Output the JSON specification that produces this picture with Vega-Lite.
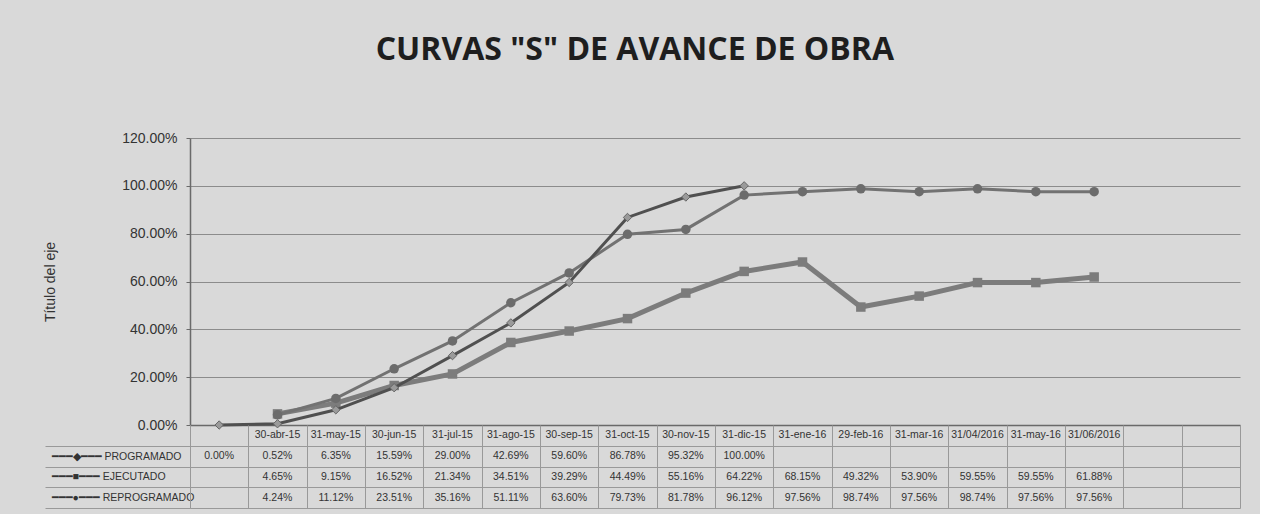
{
  "$schema": "https://vega.github.io/schema/vega-lite/v6.json",
  "background": "#d9d9d9",
  "padding": {"left": 43, "top": 34, "right": 20, "bottom": 5},
  "title": {
    "text": "CURVAS \"S\" DE AVANCE DE OBRA",
    "font": "Open Sans",
    "fontSize": 32,
    "fontWeight": "bold",
    "color": "#1e1e1e",
    "anchor": "middle",
    "dx": -7,
    "offset": 64
  },
  "datasets": {
    "pts": [
      {"serie": "PROGRAMADO", "fecha": " ", "v": 0},
      {"serie": "PROGRAMADO", "fecha": "30-abr-15", "v": 0.0052},
      {"serie": "PROGRAMADO", "fecha": "31-may-15", "v": 0.0635},
      {"serie": "PROGRAMADO", "fecha": "30-jun-15", "v": 0.1559},
      {"serie": "PROGRAMADO", "fecha": "31-jul-15", "v": 0.29},
      {"serie": "PROGRAMADO", "fecha": "31-ago-15", "v": 0.4269},
      {"serie": "PROGRAMADO", "fecha": "30-sep-15", "v": 0.596},
      {"serie": "PROGRAMADO", "fecha": "31-oct-15", "v": 0.8678},
      {"serie": "PROGRAMADO", "fecha": "30-nov-15", "v": 0.9532},
      {"serie": "PROGRAMADO", "fecha": "31-dic-15", "v": 1.0},
      {"serie": "EJECUTADO", "fecha": "30-abr-15", "v": 0.0465},
      {"serie": "EJECUTADO", "fecha": "31-may-15", "v": 0.0915},
      {"serie": "EJECUTADO", "fecha": "30-jun-15", "v": 0.1652},
      {"serie": "EJECUTADO", "fecha": "31-jul-15", "v": 0.2134},
      {"serie": "EJECUTADO", "fecha": "31-ago-15", "v": 0.3451},
      {"serie": "EJECUTADO", "fecha": "30-sep-15", "v": 0.3929},
      {"serie": "EJECUTADO", "fecha": "31-oct-15", "v": 0.4449},
      {"serie": "EJECUTADO", "fecha": "30-nov-15", "v": 0.5516},
      {"serie": "EJECUTADO", "fecha": "31-dic-15", "v": 0.6422},
      {"serie": "EJECUTADO", "fecha": "31-ene-16", "v": 0.6815},
      {"serie": "EJECUTADO", "fecha": "29-feb-16", "v": 0.4932},
      {"serie": "EJECUTADO", "fecha": "31-mar-16", "v": 0.539},
      {"serie": "EJECUTADO", "fecha": "31/04/2016", "v": 0.5955},
      {"serie": "EJECUTADO", "fecha": "31-may-16", "v": 0.5955},
      {"serie": "EJECUTADO", "fecha": "31/06/2016", "v": 0.6188},
      {"serie": "REPROGRAMADO", "fecha": "30-abr-15", "v": 0.0424},
      {"serie": "REPROGRAMADO", "fecha": "31-may-15", "v": 0.1112},
      {"serie": "REPROGRAMADO", "fecha": "30-jun-15", "v": 0.2351},
      {"serie": "REPROGRAMADO", "fecha": "31-jul-15", "v": 0.3516},
      {"serie": "REPROGRAMADO", "fecha": "31-ago-15", "v": 0.5111},
      {"serie": "REPROGRAMADO", "fecha": "30-sep-15", "v": 0.636},
      {"serie": "REPROGRAMADO", "fecha": "31-oct-15", "v": 0.7973},
      {"serie": "REPROGRAMADO", "fecha": "30-nov-15", "v": 0.8178},
      {"serie": "REPROGRAMADO", "fecha": "31-dic-15", "v": 0.9612},
      {"serie": "REPROGRAMADO", "fecha": "31-ene-16", "v": 0.9756},
      {"serie": "REPROGRAMADO", "fecha": "29-feb-16", "v": 0.9874},
      {"serie": "REPROGRAMADO", "fecha": "31-mar-16", "v": 0.9756},
      {"serie": "REPROGRAMADO", "fecha": "31/04/2016", "v": 0.9874},
      {"serie": "REPROGRAMADO", "fecha": "31-may-16", "v": 0.9756},
      {"serie": "REPROGRAMADO", "fecha": "31/06/2016", "v": 0.9756}
    ],
    "cats": [
      {"fecha": " "}, {"fecha": "30-abr-15"}, {"fecha": "31-may-15"}, {"fecha": "30-jun-15"},
      {"fecha": "31-jul-15"}, {"fecha": "31-ago-15"}, {"fecha": "30-sep-15"}, {"fecha": "31-oct-15"},
      {"fecha": "30-nov-15"}, {"fecha": "31-dic-15"}, {"fecha": "31-ene-16"}, {"fecha": "29-feb-16"},
      {"fecha": "31-mar-16"}, {"fecha": "31/04/2016"}, {"fecha": "31-may-16"}, {"fecha": "31/06/2016"},
      {"fecha": "  "}, {"fecha": "   "}
    ]
  },
  "spacing": 0,
  "bounds": "flush",
  "resolve": {"scale": {"x": "independent", "y": "independent"}},
  "vconcat": [
    {
      "width": 1050,
      "height": 287,
      "data": {"name": "pts"},
      "encoding": {
        "x": {
          "field": "fecha",
          "type": "ordinal",
          "scale": {"type": "point", "padding": 0.5, "domain": [" ", "30-abr-15", "31-may-15", "30-jun-15", "31-jul-15", "31-ago-15", "30-sep-15", "31-oct-15", "30-nov-15", "31-dic-15", "31-ene-16", "29-feb-16", "31-mar-16", "31/04/2016", "31-may-16", "31/06/2016", "  ", "   "]},
          "axis": {"labels": false, "ticks": false, "title": null, "grid": false, "domainColor": "#6a6a6a", "domainWidth": 1.5}
        },
        "y": {
          "field": "v",
          "type": "quantitative",
          "scale": {"domain": [0, 1.2], "nice": false},
          "axis": {
            "values": [0, 0.2, 0.4, 0.6, 0.8, 1.0, 1.2],
            "format": ".2%",
            "title": "Título del eje",
            "titleFont": "Liberation Sans",
            "titleFontSize": 14,
            "titleFontWeight": "normal",
            "titleColor": "#333",
            "titlePadding": 64,
            "labelFont": "Liberation Sans",
            "labelFontSize": 14,
            "labelColor": "#333",
            "labelPadding": 9,
            "tickSize": 4,
            "tickColor": "#6a6a6a",
            "domainColor": "#6a6a6a",
            "domainWidth": 1.5,
            "grid": true,
            "gridColor": "#8c8c8c",
            "gridWidth": 1.2
          }
        }
      },
      "layer": [
        {
          "transform": [{"filter": "datum.serie == 'EJECUTADO'"}],
          "mark": {"type": "line", "color": "#7c7c7c", "strokeWidth": 5,
                   "point": {"shape": "square", "size": 90, "filled": true, "fill": "#7c7c7c"}}
        },
        {
          "transform": [{"filter": "datum.serie == 'REPROGRAMADO'"}],
          "mark": {"type": "line", "color": "#727272", "strokeWidth": 3,
                   "point": {"shape": "circle", "size": 90, "filled": true, "fill": "#6c6c6c"}}
        },
        {
          "transform": [{"filter": "datum.serie == 'PROGRAMADO'"}],
          "mark": {"type": "line", "color": "#505050", "strokeWidth": 3,
                   "point": {"shape": "diamond", "size": 70, "filled": true, "fill": "#9a9a9a", "stroke": "#666", "strokeWidth": 1}}
        }
      ]
    },
    {
      "width": 1050,
      "height": 83,
      "encoding": {
        "x": {
          "field": "fecha",
          "type": "ordinal",
          "scale": {"type": "band", "paddingInner": 0, "paddingOuter": 0, "domain": [" ", "30-abr-15", "31-may-15", "30-jun-15", "31-jul-15", "31-ago-15", "30-sep-15", "31-oct-15", "30-nov-15", "31-dic-15", "31-ene-16", "29-feb-16", "31-mar-16", "31/04/2016", "31-may-16", "31/06/2016", "  ", "   "]},
          "axis": {"labels": false, "ticks": false, "domain": false, "title": null, "grid": true, "tickBand": "extent", "gridColor": "#999", "gridWidth": 1}
        },
        "y": {
          "field": "serie",
          "type": "nominal",
          "scale": {"domain": ["H", "PROGRAMADO", "EJECUTADO", "REPROGRAMADO"], "paddingInner": 0, "paddingOuter": 0},
          "axis": {
            "title": null,
            "values": ["PROGRAMADO", "EJECUTADO", "REPROGRAMADO"],
            "tickBand": "extent",
            "tickSize": 145,
            "tickColor": "#999",
            "grid": true,
            "gridColor": "#999",
            "domain": true,
            "domainColor": "#999",
            "labelAlign": "left",
            "labelPadding": -6,
            "labelFont": "Liberation Sans",
            "labelFontSize": 10.5,
            "labelColor": "#333",
            "labelExpr": "datum.extra ? '' : datum.label == 'PROGRAMADO' ? '━━━◆━━━ PROGRAMADO' : datum.label == 'EJECUTADO' ? '━━━■━━━ EJECUTADO' : '━━━●━━━ REPROGRAMADO'"
          }
        }
      },
      "layer": [
        {
          "data": {"name": "pts"},
          "mark": {"type": "text", "font": "Liberation Sans", "fontSize": 10.5, "color": "#333"},
          "encoding": {"text": {"field": "v", "format": ".2%"}}
        },
        {
          "data": {"name": "cats"},
          "mark": {"type": "text", "font": "Liberation Sans", "fontSize": 10.5, "color": "#333"},
          "encoding": {"y": {"datum": "H"}, "text": {"field": "fecha"}}
        }
      ]
    }
  ],
  "config": {"view": {"stroke": null}}
}
